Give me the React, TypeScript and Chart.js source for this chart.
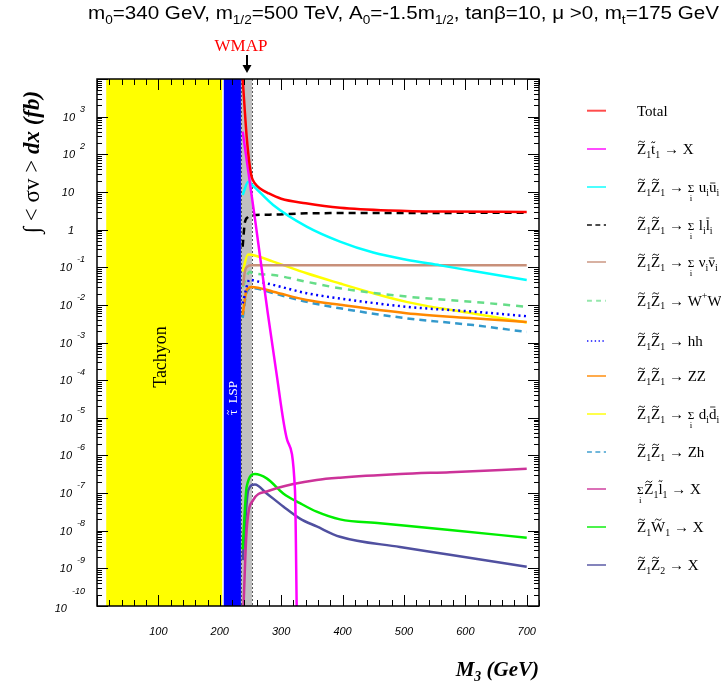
import React, { useEffect, useRef } from 'react';
import { Chart, registerables } from 'chart.js';

Chart.register(...registerables);

// ---------------- data (M3 in GeV, integrated cross sections in fb) ----------------
const totalM3 = [237, 240, 243.8, 249, 252, 257, 265, 280, 300, 340, 396, 477, 560, 700];
const totalVal = [1.2e4, 2.2e3, 295, 47, 25, 17, 12.6, 9.1, 6.6, 5.0, 3.8, 3.2, 3.0, 2.95];

const stopM3 = [237.3, 258, 278, 291.5, 310, 322.5, 325.5];
const stopVal = [400, 1.6, 6.3e-3, 1.9e-4, 2.5e-6, 1.2e-7, 5e-11];

const uuM3 = [237.3, 246.4, 252, 287, 341.5, 395.8, 450, 504, 559, 613, 700];
const uuVal = [8.3, 18.6, 15.8, 4.5, 1.2, 0.48, 0.245, 0.158, 0.112, 0.079, 0.046];

const llM3 = [237.3, 239, 241, 246, 252, 287, 341, 450, 700];
const llVal = [0.35, 0.79, 1.58, 2.14, 2.4, 2.5, 2.7, 2.75, 2.8];

const nnM3 = [238, 241, 245, 252, 400, 700];
const nnVal = [0.032, 0.079, 0.105, 0.112, 0.112, 0.112];

const wwM3 = [237.3, 249, 252, 287, 341.5, 395.8, 504, 613, 700];
const wwVal = [0.030, 0.076, 0.071, 0.062, 0.041, 0.0275, 0.0166, 0.012, 0.0089];

const hhM3 = [237.3, 249, 252, 287, 341.5, 395.8, 504, 613, 700];
const hhVal = [0.011, 0.048, 0.046, 0.034, 0.0204, 0.0148, 0.0089, 0.0066, 0.005];

const zzM3 = [237.3, 243.8, 252, 287, 341.5, 395.8, 504, 613, 700];
const zzVal = [0.0054, 0.025, 0.030, 0.0224, 0.0135, 0.010, 0.006, 0.0044, 0.0035];

const ddM3 = [237.3, 246, 252, 287, 341.5, 395.8, 450, 504, 559, 613, 700];
const ddVal = [0.076, 0.219, 0.214, 0.141, 0.069, 0.037, 0.0204, 0.012, 0.0081, 0.0059, 0.0034];

const zhM3 = [237.3, 244, 252, 287, 341.5, 395.8, 504, 613, 700];
const zhVal = [0.0045, 0.0224, 0.028, 0.0204, 0.012, 0.0081, 0.0044, 0.0029, 0.0019];

const sleptonM3 = [238, 243.8, 254.6, 276.4, 319.7, 357.8, 395.8, 493.5, 574.9, 700];
const sleptonVal = [5e-11, 1.05e-8, 6.6e-8, 1.1e-7, 1.74e-7, 2.24e-7, 2.57e-7, 3.2e-7, 3.6e-7, 4.4e-7];

const winoM3 = [237.3, 243.8, 257.3, 276.4, 303.4, 330.6, 357.8, 395.8, 460.9, 574.9, 700];
const winoVal = [3.2e-9, 1.48e-7, 3.2e-7, 2.45e-7, 9.8e-8, 5.4e-8, 3.2e-8, 2.0e-8, 1.58e-8, 1.05e-8, 6.5e-9];

const z2M3 = [237.3, 246.4, 257.3, 276.4, 303.4, 330.6, 357.8, 395.8, 493.5, 574.9, 700];
const z2Val = [1.66e-9, 1.2e-7, 1.7e-7, 9.8e-8, 4.4e-8, 2.1e-8, 1.3e-8, 6.9e-9, 3.7e-9, 2.3e-9, 1.1e-9];

// regions (GeV)
const tachyonRange = [15, 204];
const stauLspRange = [206.5, 234.5];
const wmapRange = [234.5, 252.5];

// axes
const xMin = 0;
const xMax = 720;
const yMin = 1e-10;
const yMax = 1e4;
const xTickLabels = [100, 200, 300, 400, 500, 600, 700];
const yTickExponents = [3, 2, 1, 0, -1, -2, -3, -4, -5, -6, -7, -8, -9, -10];

// ---------------- rich text ----------------
type Seg = { t?: string; sub?: string; sup?: string; tilde?: boolean; bar?: boolean; sigma?: boolean; th?: number; bh?: number };

const Zt1: Seg[] = [{ t: 'Z', tilde: true, sub: '1' }];
const arrow: Seg = { t: ' \u2192 ' };

const legendLabels: Seg[][] = [
  [{ t: 'Total' }],
  [...Zt1, { t: 't', tilde: true, th: 0.78, sub: '1' }, arrow, { t: 'X' }],
  [...Zt1, ...Zt1, arrow, { sigma: true }, { t: ' u', sub: 'i' }, { t: 'u', bar: true, bh: 0.6, sub: 'i' }],
  [...Zt1, ...Zt1, arrow, { sigma: true }, { t: ' l', sub: 'i' }, { t: 'l', bar: true, bh: 0.8, sub: 'i' }],
  [...Zt1, ...Zt1, arrow, { sigma: true }, { t: ' \u03BD', sub: 'i' }, { t: '\u03BD', bar: true, bh: 0.6, sub: 'i' }],
  [...Zt1, ...Zt1, arrow, { t: 'W', sup: '+' }, { t: 'W', sup: '\u2212' }],
  [...Zt1, ...Zt1, arrow, { t: 'hh' }],
  [...Zt1, ...Zt1, arrow, { t: 'ZZ' }],
  [...Zt1, ...Zt1, arrow, { sigma: true }, { t: ' d', sub: 'i' }, { t: 'd', bar: true, bh: 0.8, sub: 'i' }],
  [...Zt1, ...Zt1, arrow, { t: 'Zh' }],
  [{ sigma: true }, ...Zt1, { t: 'l', tilde: true, th: 0.86, sub: '1' }, arrow, { t: 'X' }],
  [...Zt1, { t: 'W', tilde: true, sub: '1' }, arrow, { t: 'X' }],
  [...Zt1, { t: 'Z', tilde: true, sub: '2' }, arrow, { t: 'X' }],
];

const titleSegs: Seg[] = [
  { t: 'm', sub: '0' }, { t: '=340 GeV, m', sub: '1/2' }, { t: '=500 TeV, A', sub: '0' },
  { t: '=-1.5m', sub: '1/2' }, { t: ', tan\u03B2=10, \u03BC >0, m', sub: 't' }, { t: '=175 GeV' },
];

function drawTilde(ctx: CanvasRenderingContext2D, cx: number, ty: number, tw: number) {
  ctx.save();
  ctx.lineWidth = 0.9;
  ctx.setLineDash([]);
  ctx.beginPath();
  ctx.moveTo(cx - tw / 2, ty + 0.8);
  ctx.quadraticCurveTo(cx - tw / 4, ty - 1.8, cx, ty);
  ctx.quadraticCurveTo(cx + tw / 4, ty + 1.8, cx + tw / 2, ty - 0.8);
  ctx.stroke();
  ctx.restore();
}

function rich(ctx: CanvasRenderingContext2D, segs: Seg[], x: number, y: number, size: number, fam: string, draw = true, style = '') {
  let cx = x;
  for (const s of segs) {
    if (s.sigma) {
      ctx.font = `${style}${size * 0.75}px ${fam}`;
      const w = ctx.measureText('\u03A3').width;
      if (draw) ctx.fillText('\u03A3', cx, y);
      ctx.font = `${style}${size * 0.6}px ${fam}`;
      const wi = ctx.measureText('i').width;
      if (draw) ctx.fillText('i', cx + (w - wi) / 2, y + size * 0.62);
      cx += w + size * 0.05;
      continue;
    }
    if (s.t) {
      ctx.font = `${style}${size}px ${fam}`;
      const w = ctx.measureText(s.t).width;
      if (draw) {
        ctx.fillText(s.t, cx, y);
        const last = s.t[s.t.length - 1];
        const lw = ctx.measureText(last).width;
        const lx = cx + w - lw;
        if (s.tilde) drawTilde(ctx, lx + lw / 2, y - size * (s.th ?? 0.82), Math.min(lw * 0.8, size * 0.45));
        if (s.bar) {
          ctx.save();
          ctx.lineWidth = 0.8;
          ctx.setLineDash([]);
          ctx.beginPath();
          const by = y - size * (s.bh ?? 0.6);
          ctx.moveTo(lx + lw * 0.15, by);
          ctx.lineTo(lx + lw * 0.85, by);
          ctx.stroke();
          ctx.restore();
        }
      }
      cx += w;
    }
    if (s.sub) {
      ctx.font = `${style}${size * 0.66}px ${fam}`;
      const w = ctx.measureText(s.sub).width;
      if (draw) ctx.fillText(s.sub, cx, y + size * 0.25);
      cx += w;
    }
    if (s.sup) {
      ctx.font = `${style}${size * 0.66}px ${fam}`;
      const w = ctx.measureText(s.sup).width;
      if (draw) ctx.fillText(s.sup, cx, y - size * 0.42);
      cx += w;
    }
  }
  return cx - x;
}

// ---------------- series ----------------
type Series = { xs: number[]; ys: number[]; color: string; dash: number[]; width: number };
const series: Series[] = [
  { xs: totalM3, ys: totalVal, color: '#ff0000', dash: [], width: 2.5 },
  { xs: stopM3, ys: stopVal, color: '#ff00ff', dash: [], width: 2.5 },
  { xs: uuM3, ys: uuVal, color: '#00ffff', dash: [], width: 2.5 },
  { xs: llM3, ys: llVal, color: '#000000', dash: [7, 5], width: 2.5 },
  { xs: nnM3, ys: nnVal, color: '#c8907a', dash: [], width: 2.5 },
  { xs: wwM3, ys: wwVal, color: '#66dd88', dash: [7, 6], width: 2.5 },
  { xs: hhM3, ys: hhVal, color: '#0000ff', dash: [2, 3.5], width: 2.5 },
  { xs: zzM3, ys: zzVal, color: '#ff8800', dash: [], width: 2.5 },
  { xs: ddM3, ys: ddVal, color: '#ffff00', dash: [], width: 2.5 },
  { xs: zhM3, ys: zhVal, color: '#3399cc', dash: [7, 5], width: 2.5 },
  { xs: sleptonM3, ys: sleptonVal, color: '#cc3399', dash: [], width: 2.5 },
  { xs: winoM3, ys: winoVal, color: '#00ee00', dash: [], width: 2.5 },
  { xs: z2M3, ys: z2Val, color: '#5050a0', dash: [], width: 2.5 },
];

const legendRowY = [110.7, 149, 187, 225, 262, 300.7, 341, 376, 414, 452, 489, 527, 565];

const SERIF = "'Liberation Serif', 'DejaVu Serif', serif";
const SANS = "'Liberation Sans', Arial, sans-serif";

export default function App() {
  const ref = useRef<HTMLCanvasElement | null>(null);
  useEffect(() => {
    const canvas = ref.current;
    if (!canvas) return;

    const bgPlugin = {
      id: 'bgRegions',
      beforeDatasetsDraw(chart: any) {
        const { ctx, chartArea: a, scales } = chart;
        const xs = scales.x;
        const px = (v: number) => xs.getPixelForValue(v);
        ctx.save();
        ctx.fillStyle = '#ffff00';
        ctx.fillRect(px(tachyonRange[0]), a.top, px(tachyonRange[1]) - px(tachyonRange[0]), a.bottom - a.top);
        ctx.fillStyle = '#0000ff';
        ctx.fillRect(px(stauLspRange[0]), a.top, px(stauLspRange[1]) - px(stauLspRange[0]), a.bottom - a.top);
        ctx.fillStyle = '#c0c0c0';
        ctx.fillRect(px(wmapRange[0]), a.top, px(wmapRange[1]) - px(wmapRange[0]), a.bottom - a.top);
        ctx.strokeStyle = '#555555';
        ctx.lineWidth = 1;
        ctx.setLineDash([2, 2]);
        for (const v of wmapRange) {
          const x = Math.round(px(v)) + 0.5;
          ctx.beginPath();
          ctx.moveTo(x, a.top);
          ctx.lineTo(x, a.bottom);
          ctx.stroke();
        }
        ctx.setLineDash([]);
        // Tachyon
        ctx.fillStyle = '#000';
        ctx.translate(160, 357);
        ctx.rotate(-Math.PI / 2);
        ctx.font = `18px ${SERIF}`;
        const tw = ctx.measureText('Tachyon').width;
        ctx.fillText('Tachyon', -tw / 2, 6);
        ctx.restore();
        // stau LSP
        ctx.save();
        ctx.fillStyle = '#fff';
        ctx.strokeStyle = '#fff';
        ctx.translate((px(stauLspRange[0]) + px(stauLspRange[1])) / 2, 398);
        ctx.rotate(-Math.PI / 2);
        const segs: Seg[] = [{ t: '\u03C4', tilde: true, th: 0.72 }, { t: '  LSP' }];
        const w = rich(ctx, segs, 0, 0, 13, SERIF, false);
        rich(ctx, segs, -w / 2, 5, 13, SERIF, true);
        ctx.restore();
      },
    };

    const fgPlugin = {
      id: 'frameText',
      afterDatasetsDraw(chart: any) {
        const { ctx, chartArea: a, scales } = chart;
        const xs = scales.x;
        const ys = scales.y;
        ctx.save();
        ctx.strokeStyle = '#000';
        ctx.fillStyle = '#000';
        ctx.setLineDash([]);
        // ticks
        ctx.lineWidth = 1;
        ctx.beginPath();
        for (let k = -10; k <= 4; k++) {
          const y = Math.round(ys.getPixelForValue(Math.pow(10, k))) + 0.5;
          ctx.moveTo(a.left, y); ctx.lineTo(a.left + 11, y);
          ctx.moveTo(a.right, y); ctx.lineTo(a.right - 11, y);
          if (k < 4) {
            for (let m = 2; m <= 9; m++) {
              const ym = Math.round(ys.getPixelForValue(m * Math.pow(10, k))) + 0.5;
              ctx.moveTo(a.left, ym); ctx.lineTo(a.left + 5, ym);
              ctx.moveTo(a.right, ym); ctx.lineTo(a.right - 5, ym);
            }
          }
        }
        for (let v = xMin; v <= xMax; v += 20) {
          const x = Math.round(xs.getPixelForValue(v)) + 0.5;
          const L = v % 100 === 0 ? 11 : 6;
          ctx.moveTo(x, a.bottom); ctx.lineTo(x, a.bottom - L);
          ctx.moveTo(x, a.top); ctx.lineTo(x, a.top + L);
        }
        ctx.stroke();
        // frame
        ctx.lineWidth = 1.5;
        ctx.strokeRect(a.left, a.top, a.right - a.left, a.bottom - a.top);

        // y tick labels
        for (const k of yTickExponents) {
          const y = ys.getPixelForValue(Math.pow(10, k));
          ctx.font = `italic 11px ${SANS}`;
          if (k === 0 || k === 1) {
            const s = k === 0 ? '1' : '10';
            const w = ctx.measureText(s).width;
            ctx.fillText(s, 74 - w, y + 4);
          } else {
            const e = k < 0 ? '-' + String(-k) : String(k);
            ctx.font = `italic 9px ${SANS}`;
            const we = ctx.measureText(e).width;
            const ex = 85 - we;
            ctx.fillText(e, ex, y - 5 + (k === -10 ? -7 : 0));
            ctx.font = `italic 11px ${SANS}`;
            const wb = ctx.measureText('10').width;
            ctx.fillText('10', ex - 5 - wb, y + 4 + (k === -10 ? 2 : 0));
          }
        }
        // x tick labels
        ctx.font = `italic 11px ${SANS}`;
        for (const v of xTickLabels) {
          const s = String(v);
          const w = ctx.measureText(s).width;
          ctx.fillText(s, xs.getPixelForValue(v) - w / 2, 635);
        }

        // x title
        const xt: Seg[] = [{ t: 'M', sub: '3' }, { t: ' (GeV)' }];
        const xw = rich(ctx, xt, 0, 0, 21, SERIF, false, 'bold italic ');
        rich(ctx, xt, a.right - xw, 676, 21, SERIF, true, 'bold italic ');

        // y title
        ctx.save();
        ctx.translate(31, 162);
        ctx.rotate(-Math.PI / 2);
        const fs = 23;
        ctx.font = `${fs}px ${SERIF}`;
        const p1 = '\u222B < \u03C3v > ';
        const w1 = ctx.measureText(p1).width;
        ctx.font = `bold italic ${fs}px ${SERIF}`;
        const p2 = 'dx (fb)';
        const w2 = ctx.measureText(p2).width;
        const sx = -(w1 + w2) / 2;
        ctx.font = `${fs}px ${SERIF}`;
        ctx.fillText(p1, sx, 8);
        ctx.font = `bold italic ${fs}px ${SERIF}`;
        ctx.fillText(p2, sx + w1, 8);
        ctx.restore();

        // title, fitted between x=88 and x=719
        ctx.save();
        const tWidth = rich(ctx, titleSegs, 0, 0, 18, SANS, false);
        const sc = 631 / tWidth;
        ctx.translate(88, 19);
        ctx.scale(sc, 1);
        rich(ctx, titleSegs, 0, 0, 18, SANS, true);
        ctx.restore();

        // WMAP label and arrow
        ctx.fillStyle = '#ff0000';
        ctx.font = `17px ${SERIF}`;
        const ww = ctx.measureText('WMAP').width;
        ctx.fillText('WMAP', 241 - ww / 2, 51);
        ctx.strokeStyle = '#000';
        ctx.fillStyle = '#000';
        ctx.lineWidth = 2;
        ctx.beginPath();
        ctx.moveTo(247, 55); ctx.lineTo(247, 70);
        ctx.stroke();
        ctx.beginPath();
        ctx.moveTo(242.5, 65); ctx.lineTo(247, 73); ctx.lineTo(251.5, 65);
        ctx.closePath();
        ctx.fill();

        // legend
        series.forEach((s, i) => {
          const y = legendRowY[i];
          ctx.strokeStyle = s.color;
          ctx.lineWidth = 2;
          ctx.globalAlpha = 0.7;
          ctx.setLineDash(s.dash.length ? s.dash.map((d) => d * 0.7) : []);
          ctx.beginPath();
          ctx.moveTo(587, y); ctx.lineTo(606, y);
          ctx.stroke();
          ctx.globalAlpha = 1;
          ctx.setLineDash([]);
          ctx.fillStyle = '#000';
          ctx.strokeStyle = '#000';
          rich(ctx, legendLabels[i], 637, y + 5, 15, SERIF, true);
        });
        ctx.restore();
      },
    };

    const chart = new Chart(canvas, {
      type: 'line',
      data: {
        datasets: series.map((s) => ({
          data: s.xs.map((x, i) => ({ x, y: s.ys[i] })),
          borderColor: s.color,
          borderWidth: s.width,
          borderDash: s.dash,
          pointRadius: 0,
          fill: false,
          cubicInterpolationMode: 'monotone' as const,
        })),
      },
      options: {
        animation: false,
        responsive: false,
        maintainAspectRatio: false,
        events: [],
        layout: { padding: { left: 97, top: 79, right: 182, bottom: 88 } },
        plugins: { legend: { display: false }, tooltip: { enabled: false }, title: { display: false } },
        scales: {
          x: { type: 'linear', min: xMin, max: xMax, display: false },
          y: { type: 'logarithmic', min: yMin, max: yMax, display: false },
        },
      },
      plugins: [bgPlugin, fgPlugin],
    });
    return () => chart.destroy();
  }, []);

  return (
    <div style={{ position: 'fixed', left: 0, top: 0, width: 721, height: 694, background: '#fff' }}>
      <canvas ref={ref} width={721} height={694} style={{ display: 'block', width: 721, height: 694 }} />
    </div>
  );
}
